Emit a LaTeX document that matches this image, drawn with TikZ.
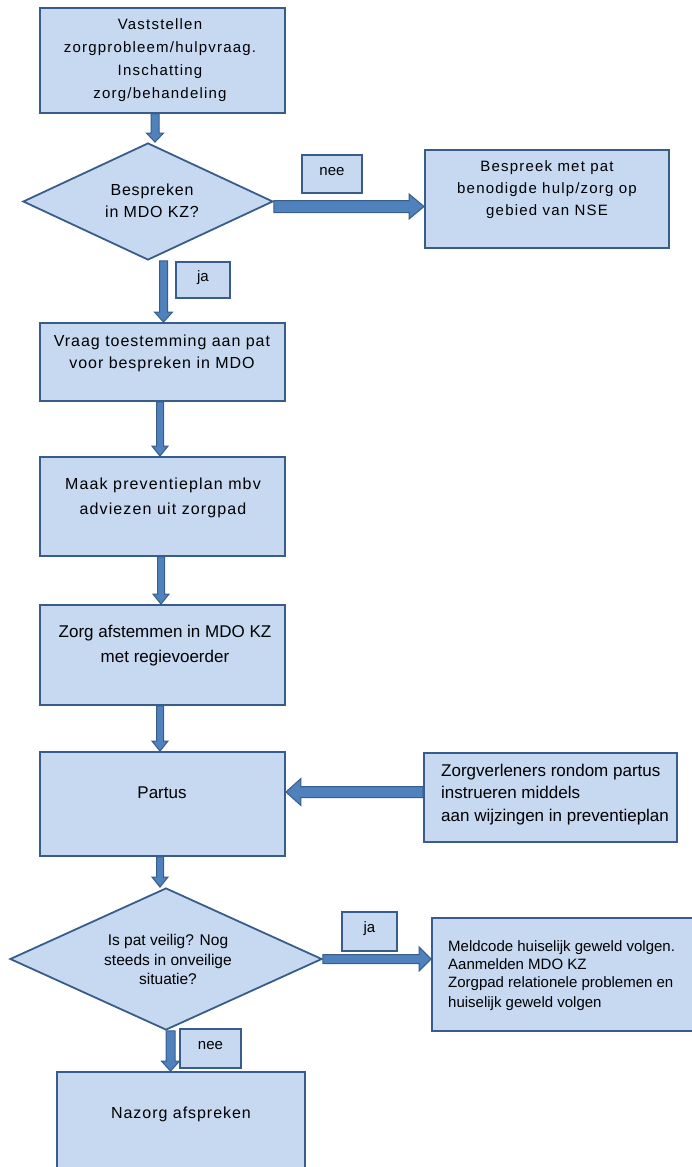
\documentclass[tikz,border=0pt]{standalone}
\usepackage{fontspec}
\setmainfont{Liberation Sans}
\usetikzlibrary{calc,shapes.geometric}
\definecolor{bfill}{RGB}{198,217,241}
\definecolor{bline}{RGB}{56,93,138}
\definecolor{afill}{RGB}{79,129,189}
\tikzset{
  box/.style={draw=bline, fill=bfill, line width=1.8pt, rectangle, inner sep=0pt},
  dia/.style={draw=bline, fill=bfill, line width=1.8pt, diamond, inner sep=0pt},
  blk/.style={draw=bline, fill=afill, line width=1pt, line join=miter},
  txt/.style={inner sep=0pt, align=center, text=black},
  ltxt/.style={inner sep=0pt, align=left, text=black, anchor=west},
}
\newcommand\vblk[5]{%
  \draw[blk] ($(#1)+(-#3,0)$) -- ($(#1|-#2)+(-#3,-#5)$) -- ($(#1|-#2)+(-#4,-#5)$) -- (#1|-#2)
    -- ($(#1|-#2)+(#4,-#5)$) -- ($(#1|-#2)+(#3,-#5)$) -- ($(#1)+(#3,0)$) -- cycle;}
\newcommand\rblk[5]{%
  \draw[blk] ($(#1)+(0,-#3)$) -- ($(#2|-#1)+(-#5,-#3)$) -- ($(#2|-#1)+(-#5,-#4)$) -- (#2|-#1)
    -- ($(#2|-#1)+(-#5,#4)$) -- ($(#2|-#1)+(-#5,#3)$) -- ($(#1)+(0,#3)$) -- cycle;}
\newcommand\lblk[5]{%
  \draw[blk] ($(#1)+(0,-#3)$) -- ($(#2|-#1)+(#5,-#3)$) -- ($(#2|-#1)+(#5,-#4)$) -- (#2|-#1)
    -- ($(#2|-#1)+(#5,#4)$) -- ($(#2|-#1)+(#5,#3)$) -- ($(#1)+(0,#3)$) -- cycle;}
\begin{document}
\begin{tikzpicture}[x=1pt,y=-1pt]
\useasboundingbox (0,0) rectangle (692,1167);
% boxes
\node[box, minimum width=245pt, minimum height=105pt] (b1) at (162.5,60.5) {};
\node[dia, minimum width=250pt, minimum height=117pt] (d1) at (148,201.5) {};
\node[box, minimum width=244pt, minimum height=98pt] (b2) at (547,199) {};
\node[box, minimum width=60pt, minimum height=38pt] (n1) at (332,174) {};
\node[box, minimum width=54pt, minimum height=36pt] (j1) at (203,280) {};
\node[box, minimum width=245pt, minimum height=78pt] (b3) at (162.5,362) {};
\node[box, minimum width=245pt, minimum height=99pt] (b4) at (162.5,506.5) {};
\node[box, minimum width=245pt, minimum height=100pt] (b5) at (162.5,655) {};
\node[box, minimum width=245pt, minimum height=104pt] (b6) at (162.5,804) {};
\node[box, minimum width=253pt, minimum height=89pt] (b7) at (550.5,797.5) {};
\node[dia, minimum width=312pt, minimum height=142pt] (d2) at (166,959) {};
\node[box, minimum width=55pt, minimum height=39pt] (j2) at (369.5,931.5) {};
\node[box, minimum width=268pt, minimum height=113pt] (b8) at (566,974.5) {};
\node[box, minimum width=61pt, minimum height=39pt] (n2) at (210.5,1048.5) {};
\node[box, minimum width=248pt, minimum height=103pt] (b9) at (181,1123.5) {};
% texts
\node[txt, font=\fontsize{15}{23}\selectfont\addfontfeature{LetterSpace=8}] (t1) at (160,60)
  {Vaststellen\\zorgprobleem/hulpvraag.\\Inschatting\\zorg/behandeling};
\node[txt, font=\fontsize{16}{22}\selectfont\addfontfeature{LetterSpace=5}] (td1) at (152,201)
  {Bespreken\\in MDO KZ?};
\node[txt, font=\fontsize{15}{22}\selectfont\addfontfeature{LetterSpace=8}] (t2) at (547,190)
  {Bespreek met pat\\benodigde hulp/zorg op\\gebied van NSE};
\node[txt, font=\fontsize{15}{18}\selectfont] (tn1) at (332,172) {nee};
\node[txt, font=\fontsize{15}{18}\selectfont] (tj1) at (203,278) {ja};
\node[txt, font=\fontsize{16}{22}\selectfont\addfontfeature{LetterSpace=6}] (t3) at (162,353)
  {Vraag toestemming aan pat\\voor bespreken in MDO};
\node[txt, font=\fontsize{16}{25}\selectfont\addfontfeature{LetterSpace=7}] (t4) at (163,497.5)
  {Maak preventieplan mbv\\adviezen uit zorgpad};
\node[txt, font=\fontsize{17}{25}\selectfont] (t5) at (165,645.5)
  {Zorg afstemmen in MDO KZ\\met regievoerder};
\node[txt, font=\fontsize{17}{22}\selectfont] (t6) at (162,793) {Partus};
\node[ltxt, font=\fontsize{17}{22.5}\selectfont] (t7) at (441,794.5)
  {Zorgverleners rondom partus\\instrueren middels\\aan wijzingen in preventieplan};
\node[txt, font=\fontsize{15.5}{19.5}\selectfont] (td2) at (168,959.5)
  {Is pat veilig? Nog\\steeds in onveilige\\situatie?};
\node[txt, font=\fontsize{15}{18}\selectfont] (tj2) at (369.5,929) {ja};
\node[ltxt, font=\fontsize{15}{18}\selectfont] (t8) at (448,975.5)
  {Meldcode huiselijk geweld volgen.\\Aanmelden MDO KZ\\Zorgpad relationele problemen en\\[2pt]huiselijk geweld volgen};
\node[txt, font=\fontsize{15}{18}\selectfont] (tn2) at (210.5,1046) {nee};
\node[txt, font=\fontsize{16}{22}\selectfont\addfontfeature{LetterSpace=6}] (t9) at (181,1114) {Nazorg afspreken};
% arrows
\coordinate (a1s) at ([xshift=-7.5pt]b1.south);
\vblk{a1s}{d1.north}{4}{8.5}{9}
\coordinate (a2s) at ([yshift=-5pt]d1.east);
\rblk{a2s}{b2.west}{6}{12.5}{15}
\coordinate (a3s) at ([xshift=15.5pt]d1.south);
\vblk{a3s}{b3.north}{4}{9}{10}
\coordinate (a4s) at ([xshift=-2.5pt]b3.south);
\vblk{a4s}{b4.north}{3.5}{8}{10}
\coordinate (a5s) at ([xshift=-1.5pt]b4.south);
\vblk{a5s}{b5.north}{3.5}{8}{10}
\coordinate (a6s) at ([xshift=-2.5pt]b5.south);
\vblk{a6s}{b6.north}{3.5}{8}{10}
\coordinate (a7s) at ([yshift=5.5pt]b7.west);
\lblk{a7s}{b6.east}{5.5}{13.5}{15}
\coordinate (a8s) at ([xshift=-2.5pt]b6.south);
\vblk{a8s}{d2.north}{3.5}{8}{10}
\coordinate (a9s) at ([yshift=0pt]d2.east);
\rblk{a9s}{b8.west}{4.5}{12}{12}
\coordinate (a10s) at ([xshift=4.5pt]d2.south);
\vblk{a10s}{b9.north}{4.5}{9}{10}
\end{tikzpicture}
\end{document}
